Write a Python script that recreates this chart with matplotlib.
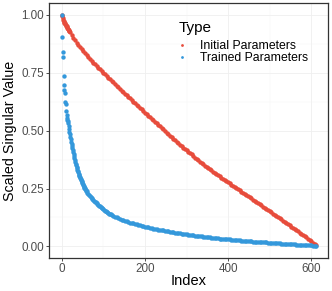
import matplotlib
matplotlib.use("Agg")
import matplotlib.pyplot as plt
from matplotlib.lines import Line2D
from matplotlib.ticker import MultipleLocator

# ---------------- data ----------------
series_names = ["Initial Parameters", "Trained Parameters"]
series_colors = ["#E74C3C", "#3498DB"]

initial_index = list(range(1, 21)) + list(range(24, 609, 4)) + [610]
initial_values = [
    1.000, 0.993, 0.986, 0.980, 0.975, 0.971, 0.967, 0.963, 0.960, 0.957,
    0.953, 0.950, 0.947, 0.944, 0.941, 0.938, 0.935, 0.932, 0.929, 0.926,
    0.914, 0.902, 0.891,
    0.880, 0.870, 0.860, 0.851, 0.842,
    0.834, 0.825, 0.817,
    0.809, 0.802, 0.794, 0.787,
    0.780, 0.772, 0.765, 0.758, 0.751, 0.743,
    0.736, 0.729, 0.722, 0.715, 0.708, 0.701, 0.694, 0.687, 0.680, 0.673,
    0.666, 0.659, 0.652, 0.646, 0.639, 0.632, 0.625, 0.618, 0.612, 0.605,
    0.598, 0.592, 0.585, 0.578, 0.571, 0.565, 0.558, 0.551, 0.545, 0.538,
    0.531, 0.525, 0.518, 0.511, 0.505, 0.498, 0.491, 0.485, 0.478,
    0.471, 0.465, 0.459, 0.452, 0.446, 0.440, 0.434, 0.427, 0.421, 0.415,
    0.409, 0.403, 0.397, 0.390, 0.384, 0.378, 0.372, 0.366, 0.360, 0.354,
    0.349, 0.343, 0.338, 0.333, 0.328, 0.322, 0.317, 0.312, 0.307, 0.302,
    0.297, 0.292, 0.287, 0.282, 0.277, 0.272, 0.267, 0.262, 0.257, 0.252,
    0.247, 0.242, 0.237, 0.232, 0.227, 0.222, 0.217, 0.212, 0.207, 0.202,
    0.197, 0.192, 0.187, 0.182, 0.177, 0.172, 0.167, 0.162, 0.157, 0.152,
    0.147, 0.142, 0.137, 0.132, 0.127, 0.122, 0.117, 0.111, 0.106, 0.101,
    0.096, 0.091, 0.086, 0.081, 0.076, 0.071, 0.066, 0.060, 0.055, 0.050,
    0.045, 0.039, 0.034, 0.028, 0.022, 0.016, 0.009,
    0.005,
]

trained_index = list(range(1, 61)) + list(range(62, 121, 2)) + list(range(124, 609, 4)) + [610]
trained_values = [
    1.000, 0.905, 0.840, 0.820, 0.737, 0.695, 0.675, 0.664, 0.622, 0.615,
    0.584, 0.567, 0.554, 0.545,
    0.540, 0.532, 0.522, 0.508, 0.496, 0.485, 0.472, 0.462, 0.453, 0.444,
    0.434, 0.425, 0.416, 0.407, 0.398, 0.389, 0.381, 0.373, 0.365, 0.358,
    0.351, 0.344, 0.338, 0.332, 0.326, 0.320, 0.314, 0.309, 0.304, 0.299,
    0.295,
    0.291, 0.286, 0.282, 0.278, 0.274, 0.270, 0.266, 0.262, 0.258, 0.254,
    0.251, 0.247, 0.244, 0.241, 0.238,
    0.232, 0.227, 0.222, 0.217, 0.213, 0.209, 0.205, 0.201, 0.197, 0.194,
    0.190, 0.187, 0.183, 0.180, 0.176, 0.173, 0.170, 0.167, 0.164, 0.160,
    0.157, 0.155, 0.152, 0.150, 0.147, 0.145, 0.142, 0.140, 0.138, 0.136,
    0.132, 0.129, 0.125, 0.122, 0.118, 0.115, 0.113, 0.110, 0.108, 0.105,
    0.103, 0.101, 0.099, 0.097, 0.095, 0.093, 0.091, 0.089, 0.088, 0.086,
    0.084, 0.082, 0.081, 0.079, 0.077, 0.076, 0.074, 0.073, 0.072, 0.070,
    0.069, 0.067, 0.066, 0.065, 0.063, 0.062, 0.061, 0.060, 0.059, 0.057,
    0.056, 0.055, 0.054, 0.053, 0.052, 0.051, 0.050, 0.049, 0.048, 0.047,
    0.046, 0.045, 0.044, 0.043, 0.042, 0.041, 0.041, 0.040, 0.039, 0.038,
    0.037, 0.036, 0.036, 0.035, 0.034, 0.033, 0.033, 0.032, 0.031, 0.031,
    0.030, 0.029, 0.029, 0.028, 0.027, 0.027, 0.026, 0.025, 0.025, 0.024,
    0.024, 0.023, 0.022, 0.022, 0.021, 0.021, 0.020, 0.020, 0.019, 0.018,
    0.018, 0.017, 0.017, 0.016, 0.016, 0.015, 0.015, 0.014, 0.014, 0.013,
    0.013, 0.012, 0.012, 0.011, 0.011, 0.010, 0.010, 0.0095, 0.009, 0.0085,
    0.008, 0.0076, 0.0072, 0.0068, 0.0064, 0.006, 0.0055, 0.005, 0.0045, 0.004,
    0.0033, 0.0025,
    0.002,
]

assert len(initial_index) == len(initial_values), (len(initial_index), len(initial_values))
assert len(trained_index) == len(trained_values), (len(trained_index), len(trained_values))

x_ticks = [0, 200, 400, 600]
y_ticks = [0.00, 0.25, 0.50, 0.75, 1.00]
y_tick_labels = ["0.00", "0.25", "0.50", "0.75", "1.00"]

# ---------------- figure ----------------
plt.rcParams["font.family"] = ["Liberation Sans", "DejaVu Sans"]

W, H, DPI = 332, 291, 100
fig = plt.figure(figsize=(W / DPI, H / DPI), dpi=DPI)
fig.patch.set_facecolor("white")

left_px, right_px, top_px, bottom_px = 49.3, 328.3, 3.3, 258.0
ax = fig.add_axes([left_px / W, 1 - bottom_px / H,
                   (right_px - left_px) / W, (bottom_px - top_px) / H])

ax.set_xlim(-29.45, 640.45)
ax.set_ylim(-0.05, 1.05)

# grid
ax.set_axisbelow(True)
ax.xaxis.set_minor_locator(MultipleLocator(100))
ax.yaxis.set_minor_locator(MultipleLocator(0.125))
ax.grid(which="major", color="#EFEFEF", linewidth=0.6)
ax.grid(which="minor", color="#F5F5F5", linewidth=0.35)

msize = 10
ax.scatter(initial_index, initial_values, s=msize, color=series_colors[0],
           linewidths=0, zorder=3)
ax.scatter(trained_index, trained_values, s=msize, color=series_colors[1],
           linewidths=0, zorder=4)

ax.set_xticks(x_ticks)
ax.set_yticks(y_ticks)
ax.set_yticklabels(y_tick_labels)
ax.tick_params(which="major", length=2.2, width=0.6, color="#333333",
               labelsize=8.4, labelcolor="#4D4D4D", pad=1.6)
ax.tick_params(which="minor", length=0)

for sp in ax.spines.values():
    sp.set_color("#333333")
    sp.set_linewidth(0.9)

ax.set_xlabel("Index", fontsize=10.5, color="black", labelpad=-1.0)
ax.set_ylabel("Scaled Singular Value", fontsize=10.3, color="black", labelpad=3)

handles = [Line2D([], [], linestyle="none", marker="o", markersize=2.0,
                  markeredgewidth=0, color=c) for c in series_colors]
leg = ax.legend(handles, series_names, title="Type", loc="upper left",
                bbox_to_anchor=(0.463, 0.93), frameon=False,
                fontsize=8.8, title_fontsize=11, borderaxespad=0,
                borderpad=0, handlelength=0.55, handletextpad=1.2,
                labelspacing=0.0, alignment="left")
leg._legend_box.sep = 3.5
leg.get_title().set_color("black")

fig.savefig("out.png", dpi=DPI, facecolor="white")
